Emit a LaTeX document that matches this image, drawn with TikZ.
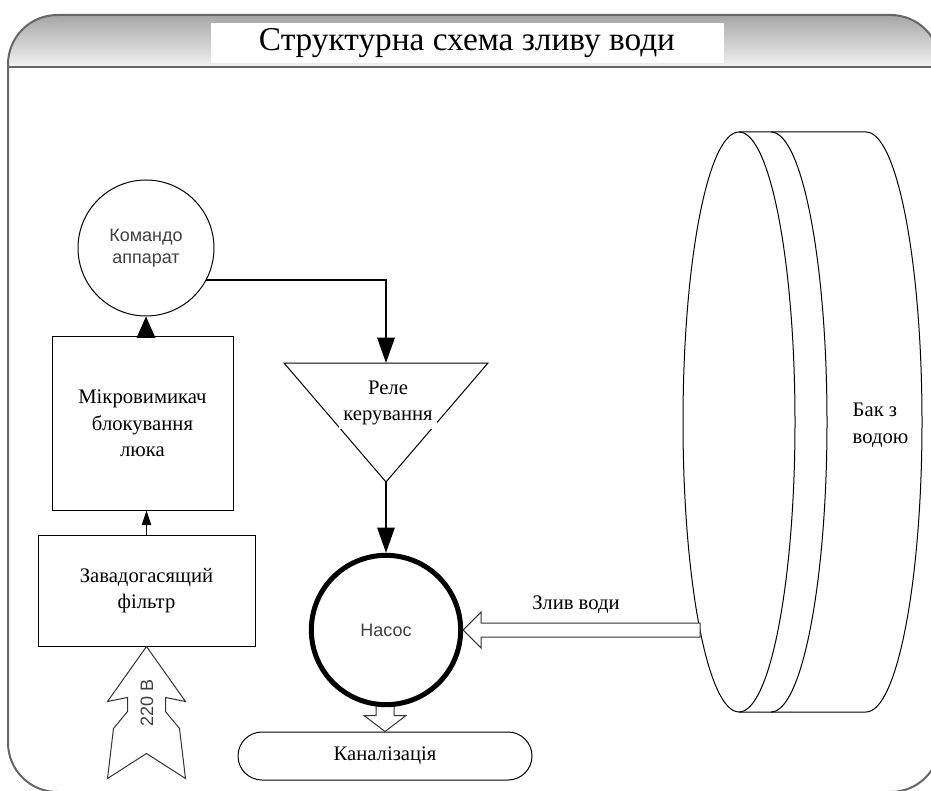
\documentclass[tikz,border=0pt]{standalone}
\usepackage{fontspec}
\setmainfont{Liberation Serif}
\setsansfont{Liberation Sans}
\tikzset{>=stealth}
\usetikzlibrary{arrows.meta}
\usetikzlibrary{shapes,positioning}
\colorlet{frameColor}{black!60}
\colorlet{penColor}{black}
\colorlet{labelColor}{black!75}
\tikzset{
	serifText/.style={font=\fontsize{15.5pt}{20pt}\selectfont, align=center},
	sansText/.style={font=\sffamily\fontsize{13.5pt}{16.5pt}\selectfont, text=labelColor, align=center},
	blockBox/.style={draw=penColor, line width=0.75pt, serifText},
	signal/.style={penColor, line width=1.5pt, -{Triangle[length=19pt,width=13pt]}},
	hollowArrow/.style={draw=black!80, fill=white, line width=0.75pt, line join=miter},
}
\begin{document}
\begin{tikzpicture}[x=0.75pt,y=-0.75pt]
				\clip (0,0) rectangle (931,791);
				\begin{scope}
					\clip[rounded corners=37pt] (8,15) rectangle (940,792);
					\shade[top color=black!35, bottom color=black!5] (0,15) rectangle (940,67);
				\end{scope}
				\draw[frameColor, line width=1.5pt, rounded corners=37pt] (8,15) rectangle (940,792);
				\draw[frameColor, line width=1.5pt] (8,67) -- (940,67);
				\fill[white] (211,23) rectangle (724,63);
				\node[font=\fontsize{25pt}{28pt}\selectfont] (title) at (467,43) {Структурна схема зливу води};
				
				% bak
				\draw[penColor, line width=0.75pt] (739,132) -- (866,132) arc[start angle=-90, end angle=90, x radius=56, y radius=290] -- (739,712);
				\draw[penColor, line width=0.75pt] (771,132) arc[start angle=-90, end angle=90, x radius=56, y radius=290];
				\draw[penColor, line width=0.75pt] (739,422) ellipse [x radius=56, y radius=290];
				\node[serifText, align=left, anchor=west] (bak) at (848,425) {Бак з\\водою};
				
				\node[blockBox, rounded corners=18pt, minimum width=220.5pt, minimum height=36pt] (kanal) at (385,756) {Каналізація};
				\draw[hollowArrow] (kanal.north) -- ++(-21,-16) -- ++(12,0) -- ++(0,-14) -- ++(18,0) -- ++(0,14) -- ++(12,0) -- cycle;
				\node[circle, draw=penColor, fill=white, line width=3.75pt, minimum size=112pt, sansText] (nasos) at (386,630) {Насос};
				\draw[hollowArrow] (nasos.east) -- ++(18,-18) -- ++(0,11) -- ++(219,0) -- ++(0,14) -- ++(-219,0) -- ++(0,11) -- cycle;
				\node[serifText] (zliv) at (576,605) {Злив води};
				
				\node[circle, draw=penColor, line width=0.75pt, minimum size=102pt, sansText] (kom) at (146,248) {Командо\\аппарат};
				\node[blockBox, minimum width=135.75pt, minimum height=129.75pt] (mikro) at (142.5,423.5) {Мікровимикач\\блокування\\люка};
				\node[blockBox, minimum width=162.75pt, minimum height=83.25pt] (filtr) at (146.5,590.5) {Завадогасящий\\фільтр};
				
				\coordinate (releL) at (284,363);
				\coordinate (releR) at (488,363);
				\coordinate (releApex) at (386,482);
				\coordinate (releTop) at (386,363);
				\draw[penColor, line width=0.75pt] (releL) -- (releR) -- (releApex) -- cycle;
				\node[serifText, fill=white, inner sep=3pt] (rele) at (388,403) {Реле\\керування};
				
				\draw[signal] (kom.-28) -| (releTop);
				\draw[signal] (releApex) -- (nasos.north);
				\draw[penColor, line width=0.75pt, -{Triangle[length=16pt,width=14pt]}] (kom.south |- mikro.north) -- (kom.south);
				\draw[penColor, line width=0.75pt, -{Triangle[length=11pt,width=7pt]}] (filtr.north) -- (filtr.north |- mikro.south);
				
				\draw[hollowArrow] (filtr.south) -- ++(-39,55) -- ++(20,-4) -- ++(0,14) -- ++(-14,17) -- ++(-6,50) -- ++(39,-25) -- ++(39,25) -- ++(-6,-50) -- ++(-14,-17) -- ++(0,-14) -- ++(20,4) -- cycle;
				\node[sansText, rotate=90] (volt) at (147,703) {220 В};
\end{tikzpicture}
\end{document}
